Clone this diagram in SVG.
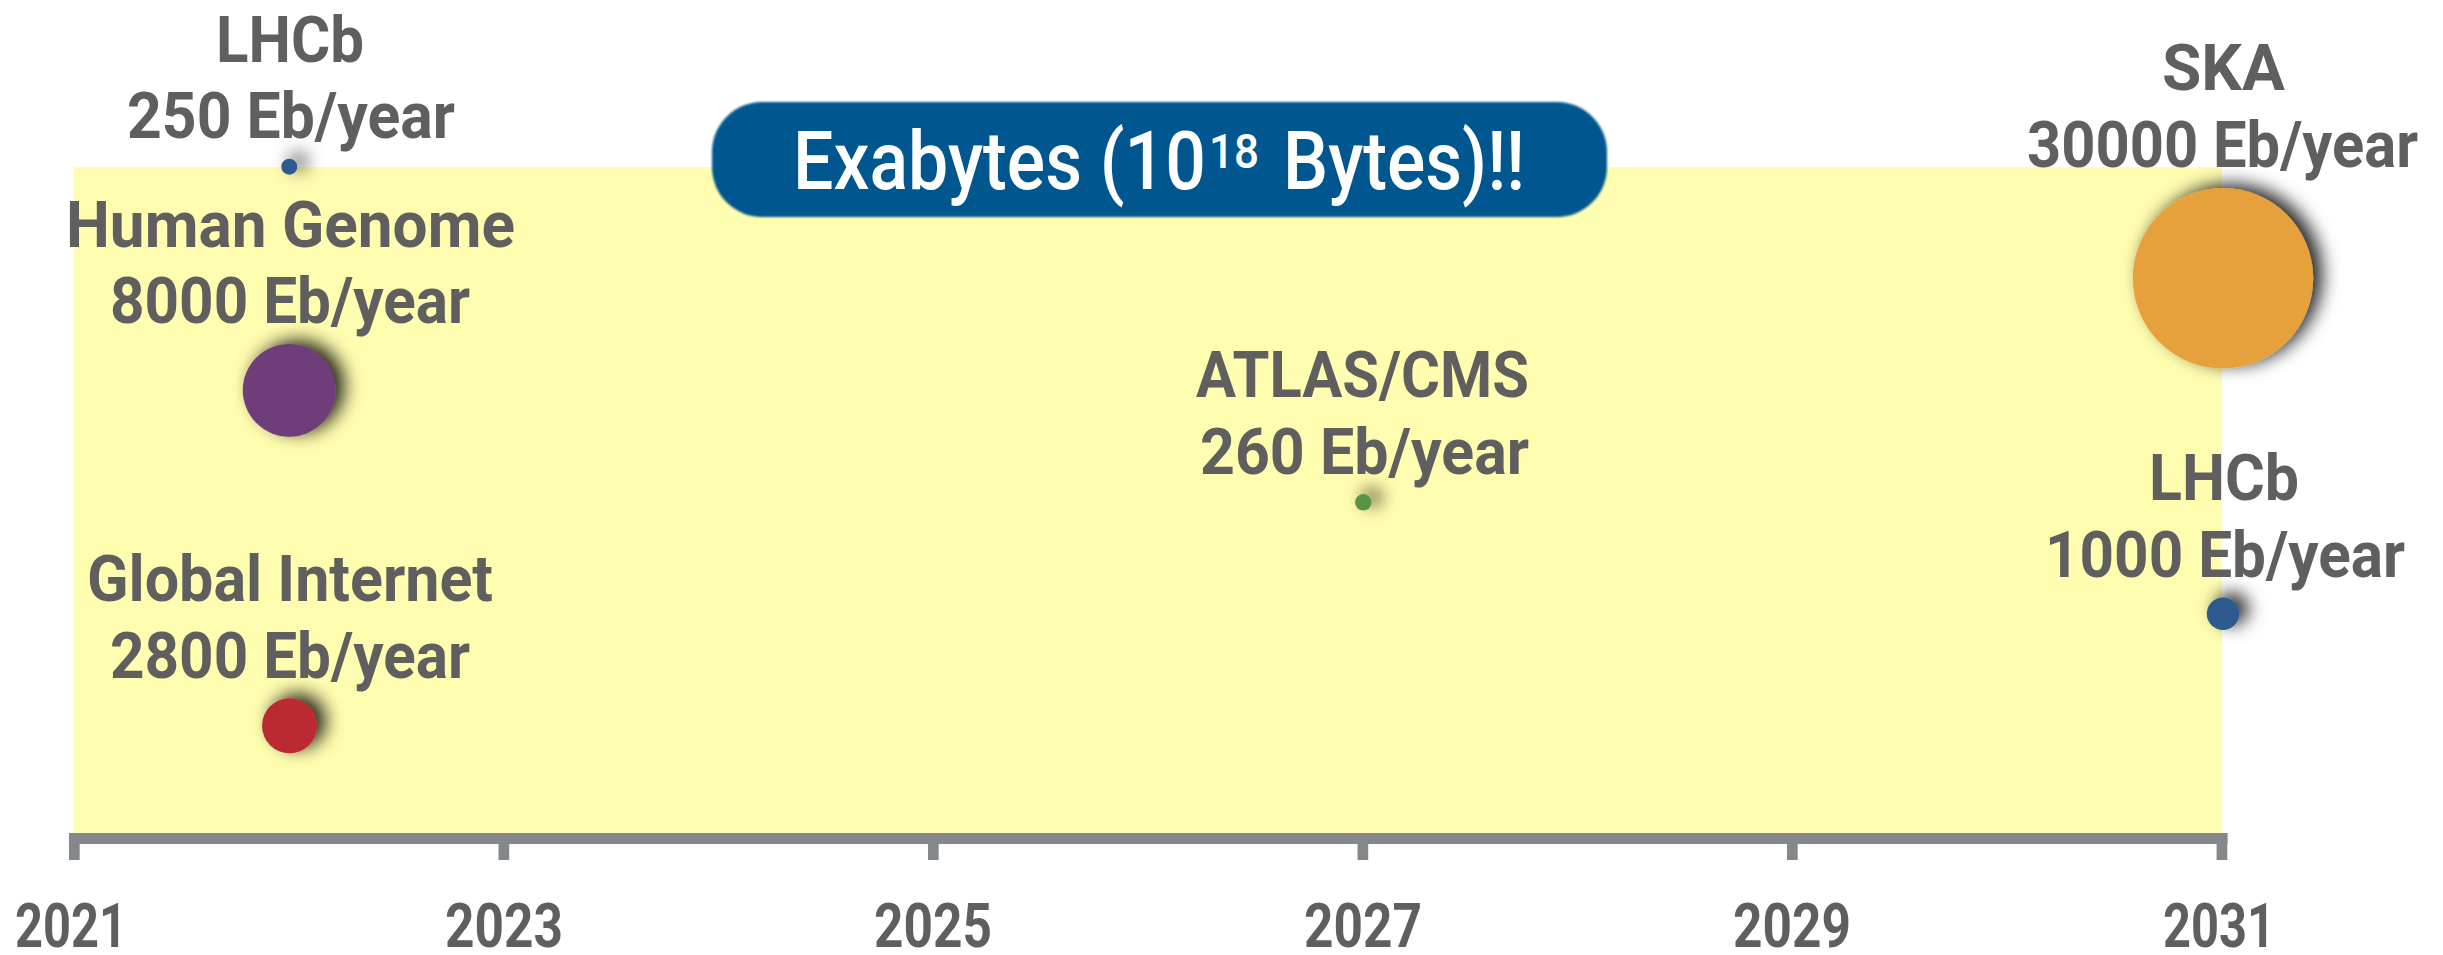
<svg xmlns="http://www.w3.org/2000/svg" width="2443" height="955" viewBox="0 0 2443 955">
<style>
.lbl{font-family:Roboto,"Liberation Sans",sans-serif;font-weight:700;font-size:65px;fill:#5f5f5f;text-anchor:start}
.yr{font-family:Roboto,"Liberation Sans",sans-serif;font-weight:700;font-size:62px;fill:#5f5f5f}
.ban{font-family:Roboto,"Liberation Sans",sans-serif;font-weight:500;fill:#ffffff}
.axis{fill:#85888a}
</style>
<defs>
<filter id="sh" x="-300%" y="-300%" width="700%" height="700%">
<feDropShadow dx="9" dy="-5" stdDeviation="9" flood-color="#000" flood-opacity="0.85"/>
</filter>
<filter id="shb" x="-40%" y="-40%" width="180%" height="180%">
<feDropShadow dx="9" dy="-4" stdDeviation="9" flood-color="#000" flood-opacity="0.85"/>
</filter>
<filter id="soft" x="-5%" y="-10%" width="110%" height="120%">
<feGaussianBlur stdDeviation="1.3"/>
</filter>
</defs>

<rect id="background" x="74" y="167" width="2148" height="666" fill="#fffdaf"/>

<g id="axis">
<rect class="axis" x="69" y="833" width="2158.5" height="11"/>
<rect class="axis" x="69" y="833" width="10.7" height="27"/>
<rect class="axis" x="498.5" y="833" width="10.7" height="27"/>
<rect class="axis" x="928" y="833" width="10.7" height="27"/>
<rect class="axis" x="1357.5" y="833" width="10.7" height="27"/>
<rect class="axis" x="1787" y="833" width="10.7" height="27"/>
<rect class="axis" x="2216.6" y="833" width="10.7" height="27"/>
<text class="yr" x="15" y="947" textLength="112" lengthAdjust="spacingAndGlyphs">2021</text>
<text class="yr" x="445" y="947" textLength="118" lengthAdjust="spacingAndGlyphs">2023</text>
<text class="yr" x="874" y="947" textLength="118" lengthAdjust="spacingAndGlyphs">2025</text>
<text class="yr" x="1304" y="947" textLength="118" lengthAdjust="spacingAndGlyphs">2027</text>
<text class="yr" x="1733" y="947" textLength="118" lengthAdjust="spacingAndGlyphs">2029</text>
<text class="yr" x="2163" y="947" textLength="112" lengthAdjust="spacingAndGlyphs">2031</text>
</g>

<g id="banner">
<rect x="712" y="102" width="895" height="115" rx="50" ry="50" fill="#03568f" filter="url(#soft)"/>
<text class="ban" x="793" y="188.5" font-size="81" textLength="413" lengthAdjust="spacingAndGlyphs">Exabytes (10</text>
<text class="ban" x="1209" y="167.5" font-size="48" textLength="50" lengthAdjust="spacingAndGlyphs">18</text>
<text class="ban" x="1283" y="188.5" font-size="81" textLength="242" lengthAdjust="spacingAndGlyphs">Bytes)!!</text>
</g>

<g id="node-lhcb-2022">
<circle cx="289.3" cy="166.7" r="8" fill="#2e5a8e" filter="url(#sh)"/>
<text class="lbl" x="216" y="61.7" textLength="148" lengthAdjust="spacingAndGlyphs">LHCb</text>
<text class="lbl" x="127" y="138.3" textLength="328" lengthAdjust="spacingAndGlyphs">250 Eb/year</text>
</g>

<g id="node-human-genome">
<circle cx="289.2" cy="390.3" r="46.4" fill="#6e3c7a" filter="url(#shb)"/>
<text class="lbl" x="66" y="246.7" textLength="449" lengthAdjust="spacingAndGlyphs">Human Genome</text>
<text class="lbl" x="110" y="323.3" textLength="360" lengthAdjust="spacingAndGlyphs">8000 Eb/year</text>
</g>

<g id="node-global-internet">
<circle cx="289.5" cy="725.8" r="27.5" fill="#bb2b31" filter="url(#sh)"/>
<text class="lbl" x="87" y="601" textLength="406" lengthAdjust="spacingAndGlyphs">Global Internet</text>
<text class="lbl" x="110" y="678" textLength="360" lengthAdjust="spacingAndGlyphs">2800 Eb/year</text>
</g>

<g id="node-atlas-cms">
<circle cx="1363.3" cy="502.3" r="8.3" fill="#5a9246" filter="url(#sh)"/>
<text class="lbl" x="1196" y="396.7" textLength="333" lengthAdjust="spacingAndGlyphs">ATLAS/CMS</text>
<text class="lbl" x="1200" y="474" textLength="329" lengthAdjust="spacingAndGlyphs">260 Eb/year</text>
</g>

<g id="node-ska">
<circle cx="2223" cy="278.3" r="90.2" fill="#e6a13e" filter="url(#shb)"/>
<text class="lbl" x="2162" y="90" textLength="123" lengthAdjust="spacingAndGlyphs">SKA</text>
<text class="lbl" x="2027" y="166.7" textLength="391" lengthAdjust="spacingAndGlyphs">30000 Eb/year</text>
</g>

<g id="node-lhcb-2031">
<circle cx="2223" cy="613.8" r="16.2" fill="#2e5a8e" filter="url(#sh)"/>
<text class="lbl" x="2149" y="500" textLength="150" lengthAdjust="spacingAndGlyphs">LHCb</text>
<text class="lbl" x="2045" y="577.3" textLength="360" lengthAdjust="spacingAndGlyphs">1000 Eb/year</text>
</g>

<g id="connectors"></g>
</svg>
